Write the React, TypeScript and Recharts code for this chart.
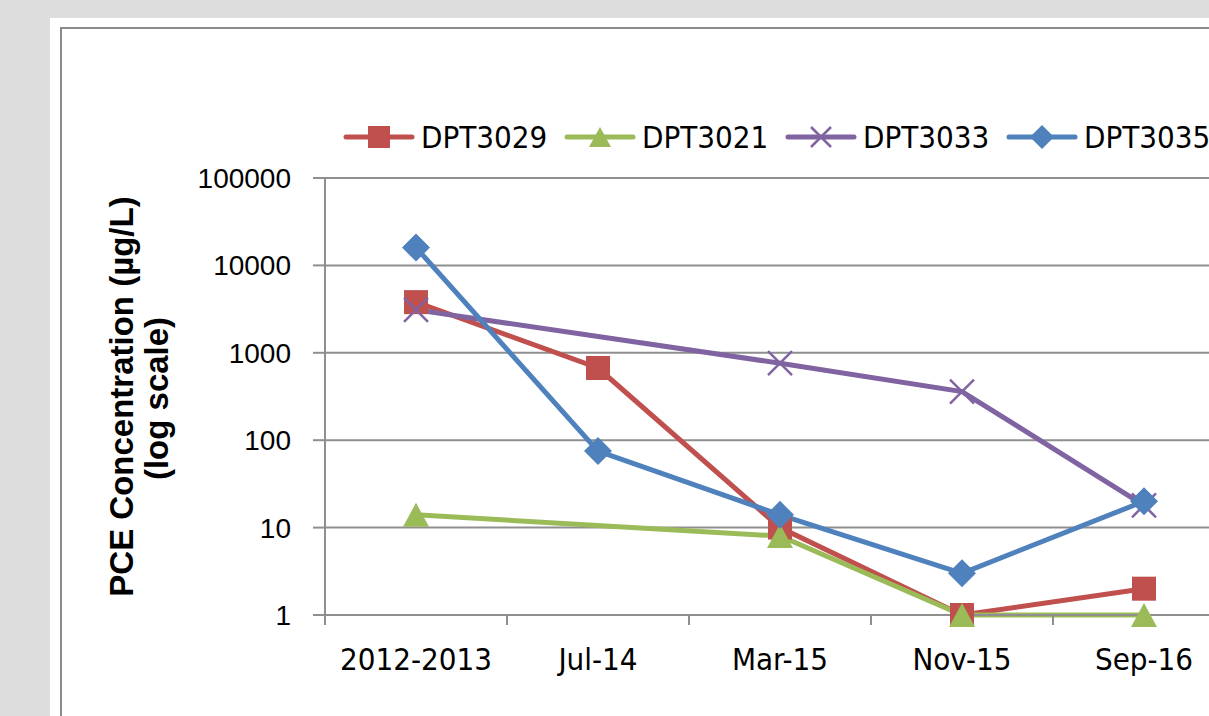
import React from 'react';
import { LineChart, Line, XAxis, YAxis, CartesianGrid, Legend } from 'recharts';

const categories = ['2012-2013', 'Jul-14', 'Mar-15', 'Nov-15', 'Sep-16'];
const dpt3029 = [3800, 670, 10, 1, 2];
const dpt3021 = [14, null, 8, 1, 1];
const dpt3033 = [3100, null, 760, 360, 18];
const dpt3035 = [16000, 75, 14, 3, 20];
const yTicks = [1, 10, 100, 1000, 10000, 100000];
const xBoundaries = [-0.5, 0.5, 1.5, 2.5, 3.5, 4.5];

const series = [
  { key: 'DPT3029', color: '#c0504d', marker: 'square' },
  { key: 'DPT3021', color: '#9bbb59', marker: 'triangle' },
  { key: 'DPT3033', color: '#8064a2', marker: 'cross' },
  { key: 'DPT3035', color: '#4f81bd', marker: 'diamond' },
];

const data = categories.map((name, i) => ({
  x: i,
  name,
  DPT3029: dpt3029[i],
  DPT3021: dpt3021[i],
  DPT3033: dpt3033[i],
  DPT3035: dpt3035[i],
}));

const GRID = '#8f8f8f';
const NARROW = '"Liberation Sans Narrow", "Arial Narrow", "DejaVu Sans Condensed", sans-serif';

function Marker(props: { kind: string; cx: number; cy: number; color: string; size?: number }) {
  const { kind, cx, cy, color } = props;
  const s = props.size ?? 12;
  switch (kind) {
    case 'square':
      return <rect x={cx - s} y={cy - s} width={s * 2} height={s * 2} fill={color} />;
    case 'triangle':
      return <polygon points={`${cx},${cy - s} ${cx + s + 1},${cy + s} ${cx - s - 1},${cy + s}`} fill={color} />;
    case 'diamond':
      return <polygon points={`${cx},${cy - s - 2} ${cx + s + 2},${cy} ${cx},${cy + s + 2} ${cx - s - 2},${cy}`} fill={color} />;
    case 'cross':
      return (
        <g stroke={color} strokeWidth={2.5}>
          <line x1={cx - s} y1={cy - s} x2={cx + s} y2={cy + s} />
          <line x1={cx - s} y1={cy + s} x2={cx + s} y2={cy - s} />
        </g>
      );
    default:
      return null;
  }
}

function makeDot(kind: string, color: string) {
  return (p: any) => {
    if (p.cy == null || p.value == null) return <g key={p.index} />;
    return <Marker key={p.index} kind={kind} cx={p.cx} cy={p.cy} color={color} />;
  };
}

function XTick(p: any) {
  const idx = Math.round(p.payload.value + 0.5);
  if (idx < 0 || idx >= categories.length) return <g />;
  const half = p.width / categories.length / 2;
  return (
    <text x={p.x + half} y={p.y} dy="0.71em" textAnchor="middle" fill="#000"
      style={{ fontFamily: NARROW, fontSize: 31 }}>
      {categories[idx]}
    </text>
  );
}

function YTitle(p: any) {
  const vb = p.viewBox || { x: 0, y: 0, width: 0, height: 0 };
  const cy = vb.y + vb.height / 2;
  const x1 = vb.x + 133;
  const x2 = vb.x + 168;
  const st = { fontFamily: '"Liberation Sans", Arial, sans-serif', fontSize: 33, fontWeight: 700 };
  return (
    <g>
      <text x={x1} y={cy} textAnchor="middle" transform={`rotate(-90, ${x1}, ${cy})`} fill="#000" style={st}>
        PCE Concentration (µg/L)
      </text>
      <text x={x2} y={cy + 2} textAnchor="middle" transform={`rotate(-90, ${x2}, ${cy + 2})`} fill="#000" style={st}>
        (log scale)
      </text>
    </g>
  );
}

function LegendBox() {
  return (
    <div style={{ display: 'flex', alignItems: 'center' }}>
      {series.map((s) => (
        <div key={s.key} style={{ display: 'flex', alignItems: 'center', width: 221 }}>
          <svg width={72} height={30}>
            <line x1={3} y1={15} x2={69} y2={15} stroke={s.color} strokeWidth={5} strokeLinecap="round" />
            <Marker kind={s.marker} cx={36} cy={15} color={s.color} size={s.marker === 'square' ? 11 : 10} />
          </svg>
          <span style={{ marginLeft: 6, fontFamily: NARROW, fontSize: 31, color: '#000', lineHeight: '30px' }}>
            {s.key}
          </span>
        </div>
      ))}
    </div>
  );
}

export default function App() {
  return (
    <div style={{ position: 'fixed', left: 0, top: 0, width: 1209, height: 716, overflow: 'hidden', background: '#dddddd' }}>
      <div style={{ position: 'absolute', left: 50, top: 18, width: 1300, height: 800, background: '#ffffff' }} />
      <div style={{ position: 'absolute', left: 60, top: 27, width: 1300, height: 800, border: '2px solid #8a8a8a' }} />
      <div style={{ position: 'absolute', left: 0, top: 0 }}>
        <LineChart width={1300} height={716} data={data} margin={{ top: 178, right: 65, bottom: 0, left: 0 }}>
          <CartesianGrid vertical={false} stroke={GRID} strokeWidth={2} />
          <XAxis
            dataKey="x"
            type="number"
            domain={[-0.5, 4.5]}
            ticks={xBoundaries}
            interval={0}
            height={101}
            tickSize={10}
            tickMargin={23}
            tick={<XTick />}
            axisLine={{ stroke: GRID, strokeWidth: 2 }}
            tickLine={{ stroke: GRID, strokeWidth: 2 }}
          />
          <YAxis
            type="number"
            scale="log"
            domain={[1, 100000]}
            ticks={yTicks}
            interval={0}
            width={325}
            tickSize={12}
            tickMargin={22}
            tick={{ fill: '#000', fontSize: 28, fontFamily: '"Liberation Sans", Arial, sans-serif' }}
            axisLine={{ stroke: GRID, strokeWidth: 2 }}
            tickLine={{ stroke: GRID, strokeWidth: 2 }}
            label={<YTitle />}
          />
          <Legend
            layout="horizontal"
            verticalAlign="middle"
            align="center"
            content={<LegendBox />}
            wrapperStyle={{ top: 122, left: 343, width: 'auto', height: 30 }}
          />
          {series.map((s) => (
            <Line
              key={s.key}
              type="linear"
              dataKey={s.key}
              stroke={s.color}
              strokeWidth={5}
              connectNulls
              dot={makeDot(s.marker, s.color)}
              activeDot={false}
              isAnimationActive={false}
            />
          ))}
        </LineChart>
      </div>
    </div>
  );
}
